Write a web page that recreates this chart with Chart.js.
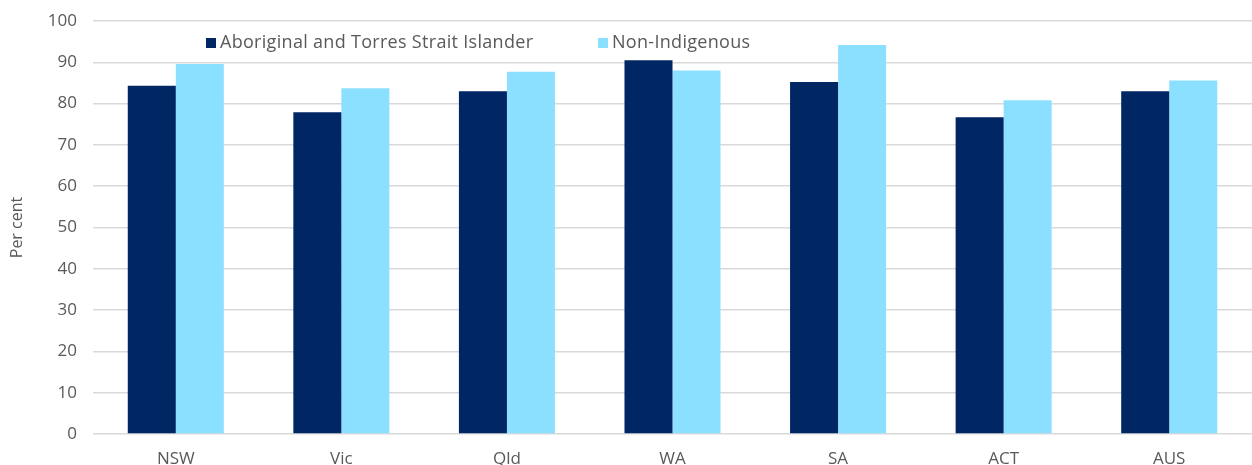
<!DOCTYPE html>
<html>
<head>
<meta charset="utf-8">
<script src="https://cdn.jsdelivr.net/npm/chart.js@4/dist/chart.umd.min.js"></script>
<style>
    html, body { margin: 0; padding: 0; background: #ffffff; }
    #wrap { width: 1252px; height: 465px; position: relative; }
</style>
</head>
<body>
<div id="wrap"><canvas id="chart"></canvas></div>
<script>
// -------------------------------------------------------------------------------------------------------------------------------
// Data
// -------------------------------------------------------------------------------------------------------------------------------

const categories = ['NSW', 'Vic', 'Qld', 'WA', 'SA', 'ACT', 'AUS'];
const indigenousValues = [84.3, 77.9, 83.0, 90.5, 85.2, 76.7, 83.0];
const nonIndigenousValues = [89.6, 83.7, 87.7, 88.0, 94.2, 80.8, 85.6];
const seriesLabels = ['Aboriginal and Torres Strait Islander', 'Non-Indigenous'];
const seriesColours = ['#002664', '#8ce0ff'];

const fontFamily = '"Open Sans", "Liberation Sans", sans-serif';
const textColour = '#595959';

Chart.defaults.animation = false;
Chart.defaults.font.family = fontFamily;
Chart.defaults.color = textColour;

// Legend drawn inside the plot, along the top
const insideLegend = {
    id: 'insideLegend',
    afterDraw(chart) {
        const ctx = chart.ctx;
        const starts = [206, 598];
        ctx.save();
        ctx.font = '18px ' + fontFamily;
        ctx.letterSpacing = '0.3px';
        ctx.textBaseline = 'middle';
        chart.data.datasets.forEach((ds, i) => {
            const x = starts[i];
            ctx.fillStyle = ds.backgroundColor;
            ctx.fillRect(x, 38, 10, 10);
            ctx.fillStyle = textColour;
            ctx.fillText(ds.label, x + 14, 43);
        });
        ctx.restore();
    }
};

new Chart(document.getElementById('chart'), {
    type: 'bar',
    data: {
        labels: categories,
        datasets: [
            { label: seriesLabels[0], data: indigenousValues, backgroundColor: seriesColours[0] },
            { label: seriesLabels[1], data: nonIndigenousValues, backgroundColor: seriesColours[1] }
        ]
    },
    options: {
        responsive: true,
        maintainAspectRatio: false,
        layout: { padding: 0 },
        datasets: { bar: { categoryPercentage: 0.58, barPercentage: 1.0 } },
        plugins: { legend: { display: false }, tooltip: { enabled: false } },
        scales: {
            x: {
                grid: { display: false, drawTicks: false },
                border: { display: false },
                ticks: { padding: 15, font: { size: 17 }, color: textColour },
                afterFit(scale) { scale.height = 31; }
            },
            y: {
                min: 0,
                max: 100,
                ticks: { stepSize: 10, padding: 16, font: { size: 17 }, color: textColour },
                grid: { color: '#d9d9d9', lineWidth: 1.5, drawTicks: false },
                border: { display: false },
                title: { display: true, text: 'Per cent', font: { size: 16 }, color: textColour, padding: { top: 8, bottom: 0 } },
                afterFit(scale) {
                    scale.width = 93;
                    scale.paddingTop = 21;
                    scale.paddingBottom = 0;
                }
            }
        }
    },
    plugins: [insideLegend]
});
</script>
</body>
</html>
